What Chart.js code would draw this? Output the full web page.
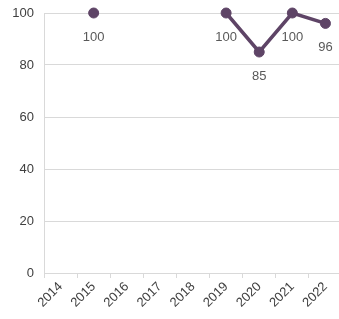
<!DOCTYPE html>
<html><head><meta charset="utf-8">
<script src="https://cdn.jsdelivr.net/npm/chart.js@4/dist/chart.umd.min.js"></script>
<style>html,body{margin:0;padding:0;overflow:hidden;background:#fff}#wrap{width:342px;height:319px;position:relative}</style>
</head><body><div id="wrap"><canvas id="c"></canvas></div>
<script>
const categories = ['2014','2015','2016','2017','2018','2019','2020','2021','2022'];
const values = [null, 100, null, null, null, 100, 85, 100, 96];
const yTicks = [0, 20, 40, 60, 80, 100];

const labelPlugin = {
  id: 'valLabels',
  afterDatasetsDraw(chart) {
    const ctx = chart.ctx;
    const meta = chart.getDatasetMeta(0);
    ctx.save();
    ctx.font = '13px "Liberation Sans", Arial, sans-serif';
    ctx.fillStyle = '#595959';
    ctx.textAlign = 'center';
    ctx.textBaseline = 'middle';
    meta.data.forEach((el, i) => {
      const v = values[i];
      if (v === null || v === undefined) return;
      ctx.fillText(String(v), el.x, el.y + 24);
    });
    ctx.restore();
  }
};

new Chart(document.getElementById('c'), {
  type: 'line',
  data: {
    labels: categories,
    datasets: [{
      data: values,
      borderColor: '#5e4466',
      backgroundColor: '#5e4466',
      borderWidth: 3.5,
      pointRadius: 5,
      pointBorderWidth: 1,
      pointHoverRadius: 5,
      spanGaps: false,
      tension: 0,
      clip: false
    }]
  },
  options: {
    responsive: true,
    maintainAspectRatio: false,
    animation: false,
    devicePixelRatio: 1,
    layout: { autoPadding: false, padding: { top: 13, right: 0, left: 0, bottom: 0 } },
    plugins: { legend: { display: false }, tooltip: { enabled: false } },
    scales: {
      x: {
        offset: true,
        grid: { offset: true, drawOnChartArea: false, drawTicks: true, tickLength: 5, color: '#d9d9d9' },
        border: { color: '#d9d9d9' },
        ticks: { minRotation: 45, maxRotation: 45, padding: 1, color: '#404040', font: { size: 13, family: '"Liberation Sans", Arial, sans-serif' } },
        afterFit(s) { s.height = 46; s.paddingLeft = 0; s.paddingRight = 0; }
      },
      y: {
        min: 0, max: 100,
        afterBuildTicks(s) { s.ticks = yTicks.map(v => ({ value: v })); },
        grid: { color: '#d9d9d9', drawTicks: false },
        border: { color: '#d9d9d9' },
        ticks: { padding: 10, color: '#404040', font: { size: 13, family: '"Liberation Sans", Arial, sans-serif' } },
        afterFit(s) { s.width = 44; s.paddingTop = 0; s.paddingBottom = 0; }
      }
    }
  },
  plugins: [labelPlugin]
});
</script></body></html>
